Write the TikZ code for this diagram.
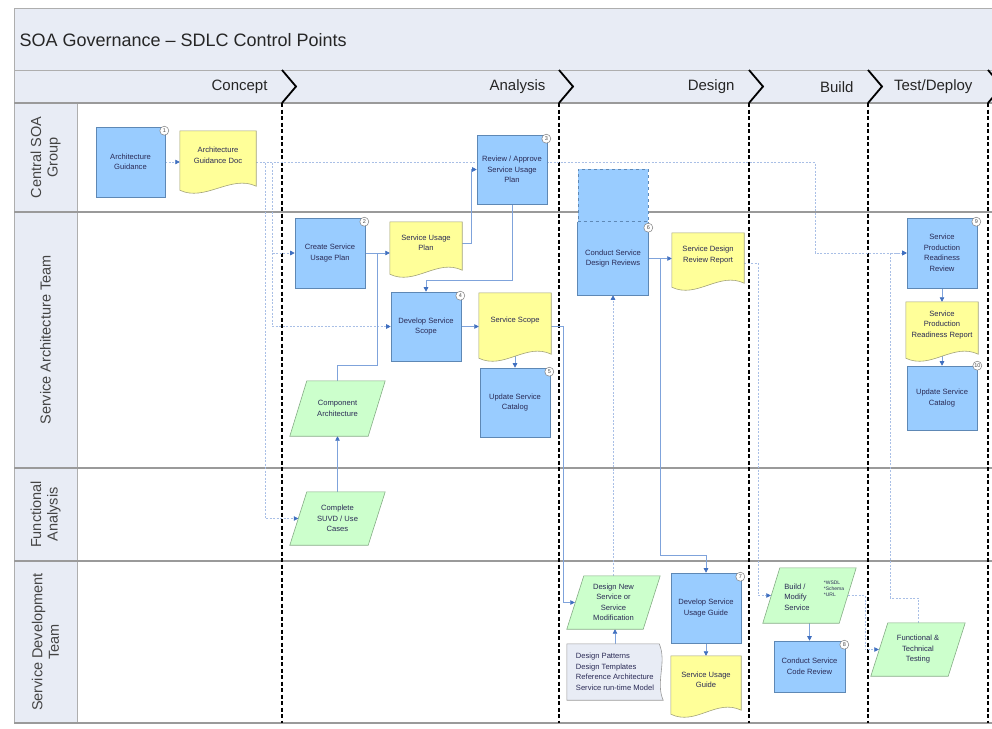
\documentclass[tikz,border=0pt]{standalone}
\usepackage{fontspec}
\setmainfont{Liberation Sans}
\usetikzlibrary{arrows.meta,calc}
\definecolor{bandbg}{HTML}{E8ECF5}
\definecolor{boxblue}{HTML}{99CCFF}
\definecolor{boxedge}{HTML}{5E88B5}
\definecolor{docyellow}{HTML}{FFFF99}
\definecolor{docedge}{HTML}{A3A37A}
\definecolor{paragreen}{HTML}{CCFFCC}
\definecolor{paraedge}{HTML}{86AD86}
\definecolor{linkblue}{HTML}{7FA3DB}
\definecolor{tipblue}{HTML}{3F6FC0}
\definecolor{linklight}{HTML}{A9BFE6}
\definecolor{txt}{HTML}{2A2A55}
\definecolor{gridgray}{HTML}{9A9A9A}
\definecolor{lanetxt}{HTML}{444444}
\newcommand\boxfont{\fontsize{7.6}{10.5}\selectfont}
\pgfdeclarelayer{bg}
\pgfdeclarelayer{links}
\pgfdeclarelayer{shapes}
\pgfsetlayers{bg,links,shapes,main}
\begin{document}
\begin{tikzpicture}[x=1pt,y=-1pt,
  frame/.style={draw=gridgray!80, line width=0.8pt},
  lanesep/.style={draw=gridgray, line width=1.4pt},
  phaseln/.style={line width=2.6pt, dash pattern=on 4pt off 2.5pt},
  chev/.style={line width=1.8pt, line join=miter},
  wh/.style 2 args={minimum width=#1pt, minimum height=#2pt},
  bluebox/.style={draw=boxedge, fill=boxblue, line width=0.6pt, text=txt, font=\boxfont, align=center, inner sep=1pt},
  docnode/.style={text=txt, font=\boxfont, align=center, inner sep=1pt},
  paranode/.style={text=txt, font=\boxfont, align=center, inner sep=1pt},
  docshape/.style={draw=docedge, fill=docyellow, line width=0.6pt},
  parashape/.style={draw=paraedge, fill=paragreen, line width=0.6pt},
  annoshape/.style={draw=gridgray, fill=bandbg, line width=0.6pt},
  anno/.style={text=txt, font=\boxfont, align=left, inner sep=2pt},
  smalltxt/.style={text=txt, font=\fontsize{5}{6}\selectfont, align=left, inner sep=0pt},
  badge/.style={circle, draw=gray, fill=white, line width=0.5pt, inner sep=0pt, minimum size=9pt, font=\fontsize{5.5}{5.5}\selectfont, text=gray!60!black},
  link/.style={draw=linkblue, line width=0.6pt, -{Triangle[length=4.5pt,width=4.5pt,color=tipblue]}},
  linkd/.style={draw=linklight, line width=0.6pt, dash pattern=on 2pt off 1.5pt, -{Triangle[length=4.5pt,width=4.5pt,color=tipblue]}},
  lanelabel/.style={rotate=90, font=\fontsize{14.5}{16.5}\selectfont, text=lanetxt, align=center},
  phaselabel/.style={anchor=east, font=\fontsize{15}{17}\selectfont, text=black!85}
]
\useasboundingbox (0,0) rectangle (992,728);
\begin{pgfonlayer}{bg}
  \fill[white] (0,0) rectangle (992,728);
  \draw[frame, fill=bandbg] (14,8) rectangle (992,70);
  \draw[frame, fill=bandbg] (14,70) rectangle (992,103);
  \draw[frame, fill=bandbg] (14,103) rectangle (77,723);
  \foreach \yy in {103,212,468,561,723} \draw[lanesep] (14,\yy) -- (992,\yy);
  \foreach \xx in {282,559,749,868,988} {
    \draw[phaseln] (\xx,103) -- (\xx,723);
    \draw[chev] (\xx,70) -- ($(\xx,86.5)+(14,0)$) -- (\xx,103);
  }
\end{pgfonlayer}

% title, phases, lanes
\node[anchor=west, font=\fontsize{18}{20}\selectfont, text=black!85] (title) at (16,40) {SOA Governance – SDLC Control Points};
\node[phaselabel] (pc) at (271,87) {Concept};
\node[phaselabel] (pa) at (549,87) {Analysis};
\node[phaselabel] (pd) at (738,87) {Design};
\node[phaselabel] (pb) at (857,87) {Build};
\node[phaselabel] (pt) at (976,87) {Test/Deploy};
\node[lanelabel] (l1) at (45.5,157.5) {Central SOA\\Group};
\node[lanelabel] (l2) at (45.5,340) {Service Architecture Team};
\node[lanelabel] (l3) at (45.5,514.5) {Functional\\Analysis};
\node[lanelabel] (l4) at (45.5,642) {Service Development\\Team};

% nodes
\node[bluebox, wh={69}{70}] (agui) at (130.5,162) {Architecture\\Guidance};
\node[docnode, wh={76}{49}] (agd) at (218,155.5) {Architecture\\Guidance Doc};
\node[bluebox, wh={70}{69}] (rasup) at (512,169.5) {Review / Approve\\Service Usage\\Plan};
\node[bluebox, wh={70}{70}] (csup) at (330,253) {Create Service\\Usage Plan};
\node[docnode, wh={72}{42}] (sup) at (426,243) {Service Usage\\Plan};
\node[bluebox, wh={70}{69}] (dss) at (426,326.5) {Develop Service\\Scope};
\node[docnode, wh={72}{55}] (ss) at (515,320.5) {Service Scope};
\node[bluebox, wh={70}{69}] (usc1) at (515,402.5) {Update Service\\Catalog};
\node[paranode, wh={95}{55}] (cmp) at (337.5,408.5) {Component\\Architecture};
\node[paranode, wh={95}{53}] (csuvd) at (337.5,518.5) {Complete\\SUVD / Use\\Cases};
\node[draw=boxedge, fill=boxblue, dashed, line width=0.6pt, wh={70}{53}] (cdrx) at (613,195.5) {};
\node[bluebox, draw=none, wh={70}{73}] (cdr) at (613,258.5) {Conduct Service\\Design Reviews};
\draw[boxedge, line width=0.6pt] (cdr.north west) -- (cdr.south west) -- (cdr.south east) -- (cdr.north east);
\draw[boxedge, line width=0.6pt, dashed] (cdr.north west) -- (cdr.north east);
\node[docnode, wh={72}{44}] (sdrr) at (708,255) {Service Design\\Review Report};
\node[bluebox, wh={70}{70}] (sprr) at (942,253) {Service\\Production\\Readiness\\Review};
\node[docnode, wh={72}{46}] (sprrep) at (942,325) {Service\\Production\\Readiness Report};
\node[bluebox, wh={70}{64}] (usc2) at (942,398) {Update Service\\Catalog};
\node[paranode, wh={93}{53}] (dnsm) at (613.5,602.5) {Design New\\Service or\\Service\\Modification};
\node[anno, wh={96}{56}] (anno) at (615,672) {Design Patterns\\Design Templates\\Reference Architecture\\Service run-time Model};
\node[bluebox, wh={70}{70}] (dsug) at (706,608) {Develop Service\\Usage Guide};
\node[docnode, wh={70}{48}] (sug) at (706,680) {Service Usage\\Guide};
\node[paranode, wh={93}{55}] (bms) at (809.5,595.5) {};
\node[paranode, align=left] (bmsa) at (797,597) {Build /\\Modify\\Service};
\node[smalltxt] (bmsb) at (834,589) {*WSDL\\*Schema\\*URL};
\node[bluebox, wh={71}{51}] (cscr) at (809.5,666.5) {Conduct Service\\Code Review};
\node[paranode, wh={94}{53}] (ftt) at (918,649.5) {Functional \&\\Technical\\Testing};

% badges
\node[badge] (n1) at ([xshift=-1pt,yshift=-4pt]agui.north east) {1};
\node[badge] (n2) at ([xshift=-1pt,yshift=-4pt]csup.north east) {2};
\node[badge] (n3) at ([xshift=-1pt,yshift=-4pt]rasup.north east) {3};
\node[badge] (n4) at ([xshift=-1pt,yshift=-4pt]dss.north east) {4};
\node[badge] (n5) at ([xshift=-1pt,yshift=-4pt]usc1.north east) {5};
\node[badge] (n6) at ([yshift=-6pt]cdr.north east) {6};
\node[badge] (n7) at ([xshift=-1pt,yshift=-4pt]dsug.north east) {7};
\node[badge] (n8) at ([xshift=-1pt,yshift=-4pt]cscr.north east) {8};
\node[badge] (n9) at ([xshift=-1pt,yshift=-4pt]sprr.north east) {9};
\node[badge] (n10) at ([xshift=0pt,yshift=0pt]usc2.north east) {10};

\begin{pgfonlayer}{shapes}
  \foreach \n in {agd,sup,ss,sdrr,sprrep,sug}{
    \draw[docshape] (\n.north west) -- (\n.north east) -- ([yshift=-6pt]\n.south east)
      .. controls ([xshift=-25pt,yshift=6pt]\n.south east) and ([xshift=25pt,yshift=-22pt]\n.south west) .. ([yshift=-10pt]\n.south west) -- cycle;
  }
  \foreach \n in {cmp,csuvd,dnsm,bms,ftt}{
    \draw[parashape] (\n.south west) -- ([xshift=17pt]\n.north west) -- (\n.north east) -- ([xshift=-17pt]\n.south east) -- cycle;
  }
  \draw[annoshape] (anno.north west) -- ([xshift=-4pt]anno.north east)
    .. controls ([xshift=4pt,yshift=-18pt]anno.north east) and ([xshift=-8pt,yshift=18pt]anno.south east) .. (anno.south east) -- (anno.south west) -- cycle;
\end{pgfonlayer}

\begin{pgfonlayer}{links}
  \draw[linkd] (agui.east) -- (agui.east -| agd.west);
  \draw[linkd] ([yshift=-7pt]agd.east) -- (815,162.5) |- (sprr.west);
  \draw[linkd] (265,162.5) |- ([xshift=8.5pt]csuvd.west);
  \draw[linkd] (272,162.5) |- (csup.west);
  \draw[linkd] (272,253) |- (dss.west);
  \draw[draw=linkblue, line width=0.6pt] (cmp.north) |- (377,365) -- (377,253);
  \draw[link] (csup.east) -- (csup.east -| sup.west);
  \draw[link] (sup.east) -- ++(9,0) |- (rasup.west);
  \draw[link] (rasup.south) -- ++(0,76) -| (dss.north);
  \draw[link] (dss.east) -- (dss.east -| ss.west);
  \draw[link] ([yshift=-8pt]ss.south) -- (usc1.north);
  \draw[link] ([yshift=-6pt]ss.east) -- ++(12,0) |- ([xshift=8pt]dnsm.west);
  \draw[linkd] (cdr.south |- dnsm.north) -- (cdr.south);
  \draw[link] (anno.north) -- (anno.north |- dnsm.south);
  \draw[link] (cdr.east) -- (cdr.east -| sdrr.west);
  \draw[link] ([xshift=12pt]cdr.east) -- ++(0,297) -| (dsug.north);
  \draw[linkd] ([yshift=-8pt]sdrr.east) -- ++(14,0) |- ([xshift=8pt]bms.west);
  \draw[link] (bms.south) -- (cscr.north);
  \draw[linkd] ([xshift=-8pt]bms.east) -- ++(17,0) |- ([xshift=8pt]ftt.west);
  \draw[linkd] (ftt.north) -- ++(0,-25) -- ++(-28,0) |- (sprr.west);
  \draw[link] (sprr.south) -- (sprrep.north);
  \draw[link] ([yshift=-8pt]sprrep.south) -- (usc2.north);
  \draw[link] (dsug.south) -- (sug.north);
  \draw[link] (csuvd.north) -- (cmp.south);
\end{pgfonlayer}
\end{tikzpicture}
\end{document}
